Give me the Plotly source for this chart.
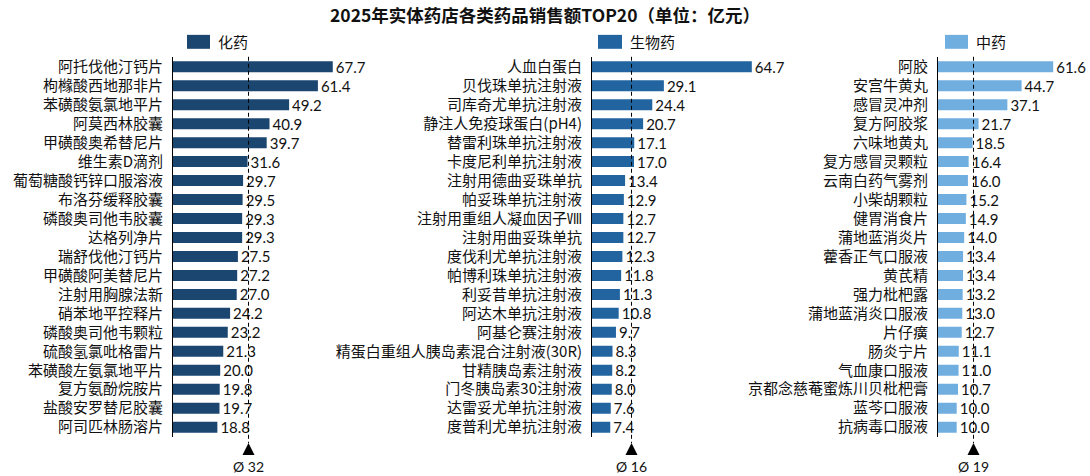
import plotly.graph_objects as go

W, H = 1090, 476

chem_names = ["阿托伐他汀钙片", "枸橼酸西地那非片", "苯磺酸氨氯地平片", "阿莫西林胶囊", "甲磺酸奥希替尼片",
              "维生素D滴剂", "葡萄糖酸钙锌口服溶液", "布洛芬缓释胶囊", "磷酸奥司他韦胶囊", "达格列净片",
              "瑞舒伐他汀钙片", "甲磺酸阿美替尼片", "注射用胸腺法新", "硝苯地平控释片", "磷酸奥司他韦颗粒",
              "硫酸氢氯吡格雷片", "苯磺酸左氨氯地平片", "复方氨酚烷胺片", "盐酸安罗替尼胶囊", "阿司匹林肠溶片"]
chem_vals = [67.7, 61.4, 49.2, 40.9, 39.7, 31.6, 29.7, 29.5, 29.3, 29.3,
             27.5, 27.2, 27.0, 24.2, 23.2, 21.3, 20.0, 19.8, 19.7, 18.8]
chem_avg = 32

bio_names = ["人血白蛋白", "贝伐珠单抗注射液", "司库奇尤单抗注射液", "静注人免疫球蛋白(pH4)", "替雷利珠单抗注射液",
             "卡度尼利单抗注射液", "注射用德曲妥珠单抗", "帕妥珠单抗注射液", "注射用重组人凝血因子Ⅷ", "注射用曲妥珠单抗",
             "度伐利尤单抗注射液", "帕博利珠单抗注射液", "利妥昔单抗注射液", "阿达木单抗注射液", "阿基仑赛注射液",
             "精蛋白重组人胰岛素混合注射液(30R)", "甘精胰岛素注射液", "门冬胰岛素30注射液", "达雷妥尤单抗注射液", "度普利尤单抗注射液"]
bio_vals = [64.7, 29.1, 24.4, 20.7, 17.1, 17.0, 13.4, 12.9, 12.7, 12.7,
            12.3, 11.8, 11.3, 10.8, 9.7, 8.3, 8.2, 8.0, 7.6, 7.4]
bio_avg = 16

tcm_names = ["阿胶", "安宫牛黄丸", "感冒灵冲剂", "复方阿胶浆", "六味地黄丸",
             "复方感冒灵颗粒", "云南白药气雾剂", "小柴胡颗粒", "健胃消食片", "蒲地蓝消炎片",
             "藿香正气口服液", "黄芪精", "强力枇杷露", "蒲地蓝消炎口服液", "片仔癀",
             "肠炎宁片", "气血康口服液", "京都念慈菴蜜炼川贝枇杷膏", "蓝芩口服液", "抗病毒口服液"]
tcm_vals = [61.6, 44.7, 37.1, 21.7, 18.5, 16.4, 16.0, 15.2, 14.9, 14.0,
            13.4, 13.4, 13.2, 13.0, 12.7, 11.1, 11.0, 10.7, 10.0, 10.0]
tcm_avg = 19

group_names = ["化药", "生物药", "中药"]
colors = ["#1A4670", "#21649F", "#70AEE0"]
title_text = "2025年实体药店各类药品销售额TOP20（单位：亿元）"

CJK = "Noto Sans CJK SC"
NUM = "Lato"

panels = [
    dict(names=chem_names, vals=chem_vals, avg=chem_avg, ax0=173, scale=2.36, rng=75, leg=(187, 210)),
    dict(names=bio_names, vals=bio_vals, avg=bio_avg, ax0=592, scale=2.47, rng=75, leg=(598, 622)),
    dict(names=tcm_names, vals=tcm_vals, avg=tcm_avg, ax0=938, scale=1.87, rng=75, leg=(945, 968)),
]

y_top, y_bot = 55.5, 436.5

fig = go.Figure()
shapes = []
annotations = []

for i, p in enumerate(panels):
    k = "" if i == 0 else str(i + 1)
    fig.add_trace(go.Bar(
        x=p["vals"], y=p["names"], orientation="h",
        marker=dict(color=colors[i], line=dict(width=0)),
        texttemplate="%{x:.1f}", textposition="outside", constraintext="none",
        textfont=dict(family=NUM, size=15, color="#111"),
        cliponaxis=False, showlegend=False,
        xaxis="x" + k, yaxis="y" + k,
    ))
    x0 = p["ax0"] / W
    x1 = (p["ax0"] + p["rng"] * p["scale"]) / W
    fig.layout["xaxis" + k] = dict(
        domain=[x0, x1], range=[0, p["rng"]], visible=False, anchor="y" + k, fixedrange=True)
    fig.layout["yaxis" + k] = dict(
        domain=[1 - y_bot / H, 1 - y_top / H], anchor="x" + k,
        type="category", categoryorder="array", categoryarray=p["names"],
        autorange="reversed", showline=True, linecolor="#000", linewidth=1,
        showgrid=False, ticks="", ticklabelstandoff=6,
        tickfont=dict(family=CJK, size=15, color="#111"), fixedrange=True)
    xref = "x" + k
    # average dashed line
    shapes.append(dict(type="line", xref=xref, yref="paper",
                       x0=p["avg"], x1=p["avg"], y0=1 - 55 / H, y1=1 - 443 / H,
                       line=dict(color="#000", width=1, dash="4px,3px"), layer="above"))
    # triangle marker
    shapes.append(dict(type="path", xref=xref, yref="paper",
                       xsizemode="pixel", ysizemode="pixel",
                       xanchor=p["avg"], yanchor=1 - 455 / H,
                       path="M-6,0 L6,0 L0,12 Z",
                       fillcolor="#000", line=dict(width=0)))
    annotations.append(dict(xref=xref, yref="paper", x=p["avg"], y=1 - 466 / H,
                            text="Ø " + str(p["avg"]), showarrow=False,
                            font=dict(family=NUM, size=14, color="#111"),
                            xanchor="center", yanchor="middle"))
    # legend patch
    lx0, lx1 = p["leg"]
    shapes.append(dict(type="rect", xref="paper", yref="paper",
                       x0=lx0 / W, x1=lx1 / W, y0=1 - 47 / H, y1=1 - 33 / H,
                       fillcolor=colors[i], line=dict(width=0)))
    annotations.append(dict(xref="paper", yref="paper", x=(lx1 + 6) / W, y=1 - 40 / H,
                            text=group_names[i], showarrow=False,
                            font=dict(family=CJK, size=15, color="#111"),
                            xanchor="left", yanchor="middle"))

annotations.append(dict(xref="paper", yref="paper", x=0.5, y=1 - 13 / H,
                        text="<b>" + title_text + "</b>", showarrow=False,
                        font=dict(family=CJK, size=17.5, color="#111"),
                        xanchor="center", yanchor="middle"))

fig.update_layout(
    width=W, height=H, margin=dict(l=0, r=0, t=0, b=0),
    paper_bgcolor="#fff", plot_bgcolor="rgba(0,0,0,0)",
    bargap=0.42, shapes=shapes, annotations=annotations,
)

fig.write_html("out.html")
